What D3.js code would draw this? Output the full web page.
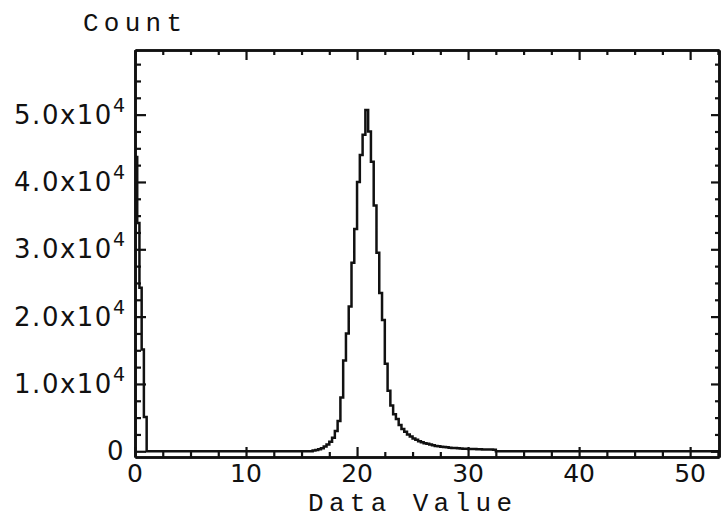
<!DOCTYPE html>
<html>
<head>
<meta charset="utf-8">
<script src="https://cdn.jsdelivr.net/npm/d3@7"></script>
<style>
  html, body { margin: 0; padding: 0; background: #fff; }
  svg { display: block; }
</style>
</head>
<body>
<svg id="chart" width="721" height="519"></svg>
<script>
// Histogram of data values: a narrow spike at the low end and a main peak near 21.

// Low-end spike: explicit bin edges and counts
const spikeEdges  = [0, 0.2, 0.4, 0.6, 0.8, 1.05];
const spikeCounts = [43700, 33900, 24300, 15100, 5100];

// Main peak: bins of width 0.25 starting at 16.0
const peakStart = 16.0;
const peakBinWidth = 0.25;
const peakCounts = [
  100, 200, 300, 450, 700, 1000, 1400, 2000,
  3000, 4500, 8000, 13500, 17500, 21500, 28000, 33000,
  40000, 44000, 47000, 50700, 47500, 43000, 36500, 29500,
  23500, 19500, 13000, 9000, 6800, 5500, 4800, 3900,
  3300, 2900, 2500, 2200, 1900, 1700, 1500, 1350,
  1200, 1100, 1000, 900, 800, 740, 680, 630,
  580, 540, 500, 470, 440, 410, 390, 370,
  350, 330, 320, 300, 290, 280, 270, 260,
  250, 240
];

// Axis settings
const xDomain = [0, 52.6];
const yDomain = [-850, 59600];
const xMajorTicks = [0, 10, 20, 30, 40, 50];
const xMinorStep = 2.5;
const yMajorTicks = [0, 10000, 20000, 30000, 40000, 50000];
const yTickMantissa = ["0", "1.0x10", "2.0x10", "3.0x10", "4.0x10", "5.0x10"];
const yTickExponent = ["", "4", "4", "4", "4", "4"];
const yMinorStep = 2500;
const xTitle = "Data Value";
const yTitle = "Count";

// ---- plot geometry ----
const plotLeft = 135, plotRight = 719, plotTop = 50, plotBottom = 457;

const svg = d3.select("#chart");
const x = d3.scaleLinear().domain(xDomain).range([plotLeft, plotRight]);
const y = d3.scaleLinear().domain(yDomain).range([plotBottom, plotTop]);

// assemble step points (bin left edges with their counts)
const bins = [];
spikeCounts.forEach((c, i) => bins.push({ x0: spikeEdges[i], x1: spikeEdges[i + 1], c }));
bins.push({ x0: spikeEdges[spikeEdges.length - 1], x1: peakStart, c: 0 });
peakCounts.forEach((c, i) => bins.push({
  x0: peakStart + i * peakBinWidth,
  x1: peakStart + (i + 1) * peakBinWidth,
  c
}));
const peakEnd = peakStart + peakCounts.length * peakBinWidth;
bins.push({ x0: peakEnd, x1: xDomain[1], c: 0 });

const pts = [{ x: 0, c: 0 }];
bins.forEach(b => pts.push({ x: b.x0, c: b.c }));
pts.push({ x: bins[bins.length - 1].x1, c: bins[bins.length - 1].c });

svg.append("clipPath").attr("id", "plotClip")
  .append("rect")
  .attr("x", plotLeft).attr("y", plotTop)
  .attr("width", plotRight - plotLeft).attr("height", plotBottom - plotTop);

const line = d3.line()
  .x(d => x(d.x))
  .y(d => y(d.c))
  .curve(d3.curveStepAfter);

svg.append("path")
  .datum(pts)
  .attr("clip-path", "url(#plotClip)")
  .attr("fill", "none")
  .attr("stroke", "#111")
  .attr("stroke-width", 2.5)
  .attr("stroke-linejoin", "miter")
  .attr("d", line);

// ---- axes (ticks pointing inward on all four sides) ----
const xMinor = d3.range(xDomain[0], xDomain[1] + 0.001, xMinorStep)
  .filter(v => !xMajorTicks.includes(v));
const yMinor = d3.range(0, yDomain[1] + 1, yMinorStep)
  .filter(v => !yMajorTicks.includes(v));

function styleAxis(g) {
  g.selectAll("path.domain").attr("stroke", "#111").attr("stroke-width", 2.6);
  g.selectAll(".tick line").attr("stroke", "#111").attr("stroke-width", 2.2);
  g.selectAll("text").remove();
}

// bottom
svg.append("g").attr("transform", `translate(0,${plotBottom})`)
  .call(d3.axisTop(x).tickValues(xMajorTicks).tickSize(10).tickSizeOuter(0))
  .call(styleAxis);
svg.append("g").attr("transform", `translate(0,${plotBottom})`)
  .call(d3.axisTop(x).tickValues(xMinor).tickSize(5).tickSizeOuter(0))
  .call(styleAxis);
// top
svg.append("g").attr("transform", `translate(0,${plotTop})`)
  .call(d3.axisBottom(x).tickValues(xMajorTicks).tickSize(10).tickSizeOuter(0))
  .call(styleAxis);
svg.append("g").attr("transform", `translate(0,${plotTop})`)
  .call(d3.axisBottom(x).tickValues(xMinor).tickSize(5).tickSizeOuter(0))
  .call(styleAxis);
// left
svg.append("g").attr("transform", `translate(${plotLeft},0)`)
  .call(d3.axisRight(y).tickValues(yMajorTicks).tickSize(11).tickSizeOuter(0))
  .call(styleAxis);
svg.append("g").attr("transform", `translate(${plotLeft},0)`)
  .call(d3.axisRight(y).tickValues(yMinor).tickSize(6).tickSizeOuter(0))
  .call(styleAxis);
// right
svg.append("g").attr("transform", `translate(${plotRight},0)`)
  .call(d3.axisLeft(y).tickValues(yMajorTicks).tickSize(8).tickSizeOuter(0))
  .call(styleAxis);
svg.append("g").attr("transform", `translate(${plotRight},0)`)
  .call(d3.axisLeft(y).tickValues(yMinor).tickSize(4).tickSizeOuter(0))
  .call(styleAxis);

// ---- tick labels ----
const tickFont = "'DejaVu Sans', sans-serif";
svg.append("g").selectAll("text")
  .data(xMajorTicks)
  .join("text")
  .attr("x", d => x(d))
  .attr("y", 482)
  .attr("text-anchor", "middle")
  .attr("font-family", tickFont)
  .attr("font-size", 25)
  .attr("fill", "#111")
  .text(d => d);

const yLab = svg.append("g").selectAll("text")
  .data(yMajorTicks)
  .join("text")
  .attr("x", 125)
  .attr("y", d => y(d) + 9)
  .attr("text-anchor", "end")
  .attr("font-family", tickFont)
  .attr("font-size", 26)
  .attr("letter-spacing", 1.5)
  .attr("fill", "#111");
yLab.append("tspan").text((d, i) => yTickMantissa[i]);
yLab.append("tspan")
  .attr("dy", -12)
  .attr("font-size", 19)
  .attr("letter-spacing", 0)
  .text((d, i) => yTickExponent[i]);

// ---- titles ----
const titleFont = "'Liberation Mono', 'Courier New', monospace";
svg.append("text")
  .attr("x", 308).attr("y", 511)
  .attr("font-family", titleFont)
  .attr("font-size", 26)
  .attr("textLength", 204)
  .attr("lengthAdjust", "spacing")
  .attr("fill", "#111")
  .text(xTitle);
svg.append("text")
  .attr("x", 83).attr("y", 31)
  .attr("font-family", titleFont)
  .attr("font-size", 26)
  .attr("textLength", 99)
  .attr("lengthAdjust", "spacing")
  .attr("fill", "#111")
  .text(yTitle);
</script>
</body>
</html>
